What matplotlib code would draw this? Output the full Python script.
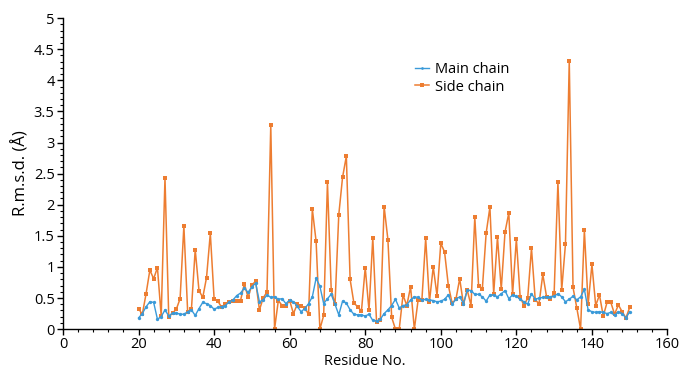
import numpy as np
import matplotlib
matplotlib.use('Agg')
import matplotlib.pyplot as plt
from matplotlib.ticker import MultipleLocator

plt.rcParams['font.family'] = ['Open Sans', 'DejaVu Sans']

# Residue numbers 20..150
residues = list(range(20, 151))

# Main chain r.m.s.d. (A)
main_chain = [
    0.18, 0.25, 0.36, 0.44, 0.43, 0.16, 0.20, 0.31, 0.21, 0.26,   # 20-29
    0.26, 0.24, 0.24, 0.28, 0.31, 0.22, 0.33, 0.43, 0.41, 0.38,   # 30-39
    0.32, 0.35, 0.36, 0.38, 0.44, 0.47, 0.54, 0.58, 0.66, 0.59,   # 40-49
    0.68, 0.74, 0.44, 0.47, 0.55, 0.51, 0.52, 0.48, 0.49, 0.41,   # 50-59
    0.47, 0.44, 0.37, 0.28, 0.33, 0.41, 0.52, 0.82, 0.69, 0.41,   # 60-69
    0.49, 0.56, 0.40, 0.23, 0.45, 0.42, 0.31, 0.24, 0.23, 0.23,   # 70-79
    0.21, 0.24, 0.14, 0.13, 0.16, 0.25, 0.31, 0.38, 0.48, 0.34,   # 80-89
    0.38, 0.39, 0.47, 0.52, 0.51, 0.47, 0.48, 0.47, 0.46, 0.44,   # 90-99
    0.45, 0.48, 0.55, 0.40, 0.48, 0.52, 0.41, 0.63, 0.62, 0.56,   # 100-109
    0.56, 0.52, 0.45, 0.55, 0.55, 0.52, 0.57, 0.62, 0.49, 0.55,   # 110-119
    0.53, 0.48, 0.44, 0.40, 0.57, 0.48, 0.50, 0.51, 0.52, 0.52,   # 120-129
    0.53, 0.57, 0.52, 0.44, 0.48, 0.53, 0.47, 0.52, 0.64, 0.31,   # 130-139
    0.28, 0.27, 0.28, 0.27, 0.25, 0.27, 0.22, 0.28, 0.25, 0.18,   # 140-149
    0.28]                                                          # 150

# Side chain r.m.s.d. (A)
side_chain = [
    0.33, 0.24, 0.57, 0.95, 0.81, 0.99, 0.21, 2.43, 0.19, 0.26,   # 20-29
    0.32, 0.49, 1.66, 0.28, 0.32, 1.28, 0.62, 0.51, 0.83, 1.54,   # 30-39
    0.49, 0.45, 0.35, 0.41, 0.43, 0.46, 0.46, 0.46, 0.73, 0.51,   # 40-49
    0.71, 0.77, 0.31, 0.50, 0.60, 3.28, 0.00, 0.46, 0.38, 0.38,   # 50-59
    0.46, 0.25, 0.40, 0.37, 0.34, 0.24, 1.93, 1.41, 0.00, 0.22,   # 60-69
    2.36, 0.63, 0.40, 1.84, 2.44, 2.78, 0.80, 0.42, 0.36, 0.29,   # 70-79
    0.99, 0.30, 1.47, 0.11, 0.14, 1.97, 1.44, 0.19, 0.00, 0.00,   # 80-89
    0.55, 0.38, 0.68, 0.00, 0.47, 0.47, 1.46, 0.44, 1.00, 0.54,   # 90-99
    1.38, 1.24, 0.70, 0.42, 0.48, 0.81, 0.40, 0.63, 0.38, 1.80,   # 100-109
    0.70, 0.65, 1.54, 1.96, 0.57, 1.48, 0.64, 1.56, 1.87, 0.56,   # 110-119
    1.45, 0.52, 0.38, 0.50, 1.30, 0.47, 0.41, 0.88, 0.52, 0.48,   # 120-129
    0.58, 2.36, 0.63, 1.37, 4.31, 0.67, 0.34, 0.00, 1.59, 0.40,   # 130-139
    1.04, 0.38, 0.55, 0.21, 0.43, 0.43, 0.24, 0.39, 0.28, 0.18,   # 140-149
    0.35]                                                          # 150

fig = plt.figure(figsize=(6.8, 3.69), dpi=100, facecolor='white')
ax = fig.add_axes([0.0926, 0.108, 0.889, 0.843])

ax.plot(residues, side_chain, color='#ED7D31', linewidth=1.1, marker='s',
        markersize=3.2, markeredgewidth=0, label='Side chain', zorder=2)
ax.plot(residues, main_chain, color='#3A9AD9', linewidth=1.0, marker='o',
        markersize=2.4, markeredgewidth=0, label='Main chain', zorder=3)

ax.set_xlim(0, 160)
ax.set_ylim(0, 5)
ax.xaxis.set_major_locator(MultipleLocator(20))
ax.xaxis.set_minor_locator(MultipleLocator(4))
ax.yaxis.set_major_locator(MultipleLocator(0.5))
ax.yaxis.set_minor_locator(MultipleLocator(0.1))
ax.yaxis.set_major_formatter(plt.FuncFormatter(lambda v, p: '%g' % v))

for s in ['top', 'right']:
    ax.spines[s].set_visible(False)
for s in ['left', 'bottom']:
    ax.spines[s].set_linewidth(1.0)

ax.tick_params(which='major', direction='out', length=4, width=1, labelsize=10.5, pad=2)
ax.tick_params(which='minor', direction='out', length=2.5, width=0.8)

ax.set_xlabel('Residue No.', fontsize=10.5, labelpad=1)
ax.set_ylabel('R.m.s.d. (Å)', fontsize=12, labelpad=3)

# legend: main chain first
h, l = ax.get_legend_handles_labels()
ax.legend(h[::-1], l[::-1], loc='upper left', bbox_to_anchor=(0.56, 0.9),
          frameon=False, fontsize=10.5, handlelength=1.0, handletextpad=0.4,
          labelspacing=0.15, markerscale=0.8)

plt.savefig('out.png', dpi=100, facecolor='white')
